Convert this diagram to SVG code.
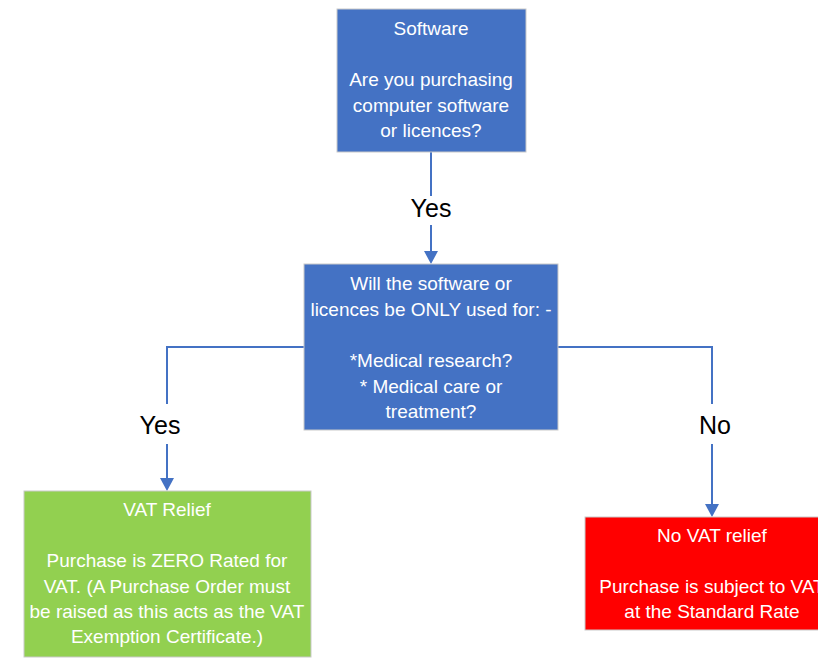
<svg xmlns="http://www.w3.org/2000/svg" width="818" height="658" viewBox="0 0 818 658">
<style>
.box{stroke:#c9c9c9;stroke-width:1}
.t{font-family:"Liberation Sans",Arial,sans-serif;font-size:19px;fill:#ffffff;text-anchor:middle}
.lbl{font-family:"Liberation Sans",Arial,sans-serif;font-size:25px;fill:#000000;text-anchor:middle}
.c{fill:none;stroke:#4472C4;stroke-width:2}
.ah{fill:#4472C4}
</style>
<rect width="818" height="658" fill="#ffffff"/>
<g id="connectors">
<line class="c" x1="431" y1="152" x2="431" y2="196"/>
<line class="c" x1="431" y1="225" x2="431" y2="251"/>
<path class="ah" d="M424,251 L438,251 L431,264 Z"/>
<polyline class="c" points="304,347 167,347 167,404"/>
<line class="c" x1="167" y1="444" x2="167" y2="478"/>
<path class="ah" d="M160,478 L174,478 L167,491 Z"/>
<polyline class="c" points="557,347 712,347 712,404"/>
<line class="c" x1="712" y1="444" x2="712" y2="504"/>
<path class="ah" d="M705,504 L719,504 L712,517 Z"/>
<text class="lbl" x="431" y="217">Yes</text>
<text class="lbl" x="160" y="434">Yes</text>
<text class="lbl" x="715" y="434">No</text>
</g>
<g id="software">
<rect class="box" x="337" y="9" width="189" height="143" fill="#4472C4"/>
<text class="t" x="431" y="35">Software</text>
<text class="t" x="431" y="86">Are you purchasing</text>
<text class="t" x="431" y="111.5">computer software</text>
<text class="t" x="431" y="137">or licences?</text>
</g>
<g id="question">
<rect class="box" x="304" y="264" width="254" height="166" fill="#4472C4"/>
<text class="t" x="431" y="290">Will the software or</text>
<text class="t" x="431" y="316">licences be ONLY used for: -</text>
<text class="t" x="431" y="367">*Medical research?</text>
<text class="t" x="431" y="393">* Medical care or</text>
<text class="t" x="431" y="418">treatment?</text>
</g>
<g id="vat-relief">
<rect class="box" x="24" y="491" width="287" height="166" fill="#92D050"/>
<text class="t" x="167" y="516">VAT Relief</text>
<text class="t" x="167" y="567">Purchase is ZERO Rated for</text>
<text class="t" x="167" y="593">VAT. (A Purchase Order must</text>
<text class="t" x="167" y="618">be raised as this acts as the VAT</text>
<text class="t" x="167" y="643">Exemption Certificate.)</text>
</g>
<g id="no-vat-relief">
<rect class="box" x="585" y="517" width="254" height="113" fill="#FF0000"/>
<text class="t" x="712" y="542">No VAT relief</text>
<text class="t" x="712" y="593">Purchase is subject to VAT</text>
<text class="t" x="712" y="618">at the Standard Rate</text>
</g>
</svg>
